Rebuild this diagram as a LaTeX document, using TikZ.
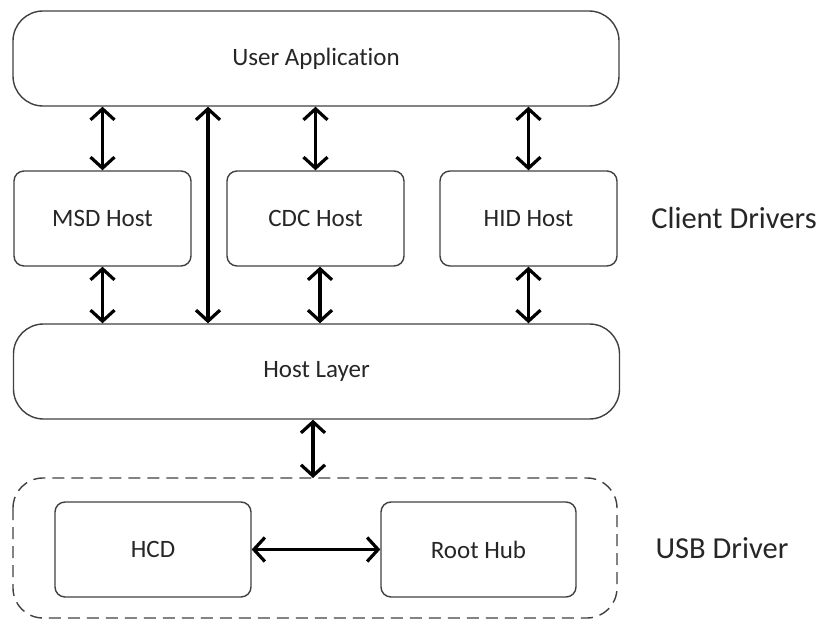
\documentclass[tikz,border=0pt]{standalone}
\usepackage{fontspec}
\setmainfont{Carlito}[Ligatures=NoCommon]
\usetikzlibrary{arrows.meta,calc}
\definecolor{boxline}{HTML}{404040}
\definecolor{txt}{HTML}{262626}
\tikzset{
  bigbox/.style={draw=boxline, line width=1.4pt, rounded corners=30pt, inner sep=0pt,
    minimum width=606pt, minimum height=95pt, text=txt, font=\fontsize{25}{29}\selectfont},
  smallbox/.style={draw=boxline, line width=1.4pt, rounded corners=10pt, inner sep=0pt,
    minimum width=177pt, minimum height=95pt, text=txt, font=\fontsize{25}{29}\selectfont},
  groupbox/.style={draw=boxline, line width=1.4pt, dash pattern=on 12pt off 7pt, rounded corners=30pt},
  sidelabel/.style={text=txt, font=\fontsize{30.5}{34}\selectfont, inner sep=0pt},
  biarrow/.style={line width=3.2pt, {Straight Barb[length=11pt,width=24pt]}-{Straight Barb[length=11pt,width=24pt]}}
}
\begin{document}
\begin{tikzpicture}[x=1pt,y=-1pt]
\useasboundingbox (0,0) rectangle (824,620);
% boxes
\node[bigbox] (ua) at (316,58.5) {User Application};
\node[smallbox] (msd) at (102.5,218.5) {MSD Host};
\node[smallbox] (cdc) at (315.5,218.5) {CDC Host};
\node[smallbox] (hid) at (528.5,218.5) {HID Host};
\node[bigbox] (hl) at (316.5,371.5) {Host Layer};
\draw[groupbox] (13,478) rectangle (617,618);
\coordinate (grouptop) at (313,478);
\node[smallbox, minimum width=196pt] (hcd) at (153,549.5) {HCD};
\node[smallbox, minimum width=195pt] (rh) at (478.5,549.5) {Root Hub};
% side labels
\node[sidelabel] (cl) at (734,218) {Client Drivers};
\node[sidelabel] (ud) at (722,548) {USB Driver};
% arrows
\draw[biarrow] (msd.north) -- (msd.north |- ua.south);
\draw[biarrow] (cdc.north) -- (cdc.north |- ua.south);
\draw[biarrow] (hid.north) -- (hid.north |- ua.south);
\draw[biarrow] (msd.south) -- (msd.south |- hl.north);
\draw[biarrow] ([xshift=4.5pt]cdc.south) -- ([xshift=4.5pt]cdc.south |- hl.north);
\draw[biarrow] (hid.south) -- (hid.south |- hl.north);
\draw[biarrow] ([xshift=-108pt]ua.south) -- ([xshift=-108pt]ua.south |- hl.north);
\draw[biarrow] (hl.south -| grouptop) -- (grouptop);
\draw[biarrow] (hcd.east) -- (rh.west);
\end{tikzpicture}
\end{document}
